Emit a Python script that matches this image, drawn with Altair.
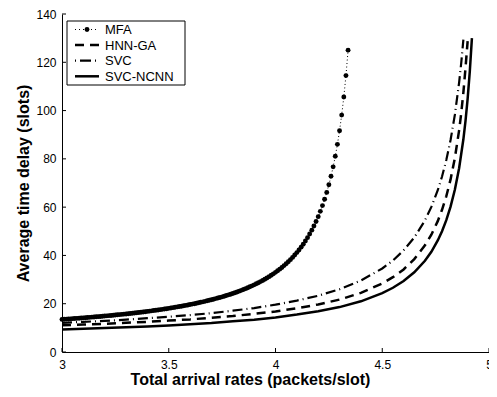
import altair as alt
import pandas as pd

FONT = "Liberation Sans"

SERIES = ["MFA", "HNN-GA", "SVC", "SVC-NCNN"]
X_TICKS = [3, 3.5, 4, 4.5, 5]
Y_TICKS = [0, 20, 40, 60, 80, 100, 120, 140]

MFA_X = [3.00, 3.01, 3.02, 3.03, 3.04, 3.05, 3.06, 3.07, 3.08, 3.09,
         3.10, 3.11, 3.12, 3.13, 3.14, 3.15, 3.16, 3.17, 3.18, 3.19,
         3.20, 3.21, 3.22, 3.23, 3.24, 3.25, 3.26, 3.27, 3.28, 3.29,
         3.30, 3.31, 3.32, 3.33, 3.34, 3.35, 3.36, 3.37, 3.38, 3.39,
         3.40, 3.41, 3.42, 3.43, 3.44, 3.45, 3.46, 3.47, 3.48, 3.49,
         3.50, 3.51, 3.52, 3.53, 3.54, 3.55, 3.56, 3.57, 3.58, 3.59,
         3.60, 3.61, 3.62, 3.63, 3.64, 3.65, 3.66, 3.67, 3.68, 3.69,
         3.70, 3.71, 3.72, 3.73, 3.74, 3.75, 3.76, 3.77, 3.78, 3.79,
         3.80, 3.81, 3.82, 3.83, 3.84, 3.85, 3.86, 3.87, 3.88, 3.89,
         3.90, 3.91, 3.92, 3.93, 3.94, 3.95, 3.96, 3.97, 3.98, 3.99,
         4.00, 4.01, 4.02, 4.03, 4.04, 4.05, 4.06, 4.07, 4.08, 4.09,
         4.10, 4.11, 4.12, 4.13, 4.14, 4.15, 4.16, 4.17, 4.18, 4.19,
         4.20, 4.21, 4.22, 4.23, 4.24, 4.25, 4.26, 4.27, 4.28, 4.29,
         4.30, 4.31, 4.32, 4.33, 4.34]
MFA_Y = [13.50, 13.56, 13.62, 13.68, 13.74, 13.81, 13.87, 13.94, 14.00, 14.07,
         14.14, 14.21, 14.28, 14.35, 14.43, 14.50, 14.58, 14.65, 14.73, 14.81,
         14.89, 14.97, 15.05, 15.14, 15.22, 15.31, 15.40, 15.49, 15.58, 15.67,
         15.77, 15.86, 15.96, 16.06, 16.16, 16.27, 16.37, 16.48, 16.59, 16.70,
         16.81, 16.93, 17.05, 17.17, 17.29, 17.42, 17.54, 17.67, 17.81, 17.94,
         18.08, 18.22, 18.37, 18.52, 18.67, 18.82, 18.98, 19.14, 19.31, 19.48,
         19.65, 19.83, 20.01, 20.20, 20.39, 20.58, 20.78, 20.99, 21.20, 21.42,
         21.64, 21.87, 22.11, 22.35, 22.60, 22.85, 23.12, 23.39, 23.67, 23.95,
         24.25, 24.56, 24.87, 25.20, 25.54, 25.88, 26.24, 26.62, 27.00, 27.40,
         27.82, 28.25, 28.70, 29.16, 29.64, 30.14, 30.67, 31.21, 31.78, 32.37,
         32.99, 33.64, 34.32, 35.03, 35.78, 36.57, 37.39, 38.26, 39.18, 40.15,
         41.18, 42.27, 43.42, 44.65, 45.96, 47.36, 48.85, 50.46, 52.19, 54.05,
         56.07, 58.26, 60.64, 63.25, 66.11, 69.27, 72.78, 76.68, 81.06, 86.01,
         91.65, 98.12, 105.65, 114.49, 125.03]

HNN_X = [3.0, 3.1, 3.2, 3.3, 3.4, 3.5, 3.6, 3.7, 3.8, 3.9, 4.0, 4.1, 4.2,
         4.3, 4.4, 4.5, 4.55, 4.6, 4.65, 4.7, 4.73, 4.76, 4.78, 4.80,
         4.82, 4.84, 4.86, 4.87, 4.88, 4.89, 4.90]
HNN_Y = [11.1, 11.4, 11.7, 12.1, 12.5, 13.0, 13.5, 14.2, 14.9, 15.8, 16.8,
         18.1, 19.7, 21.7, 24.5, 28.4, 31.0, 34.2, 38.5, 44.2, 48.6, 54.2,
         58.9, 64.5, 71.5, 80.3, 91.8, 99.0, 107.5, 117.7, 128.8]

SVC_X = [3.0, 3.1, 3.2, 3.3, 3.4, 3.5, 3.6, 3.7, 3.8, 3.9, 4.0, 4.1, 4.2,
         4.3, 4.4, 4.5, 4.55, 4.6, 4.65, 4.7, 4.73, 4.76, 4.78, 4.80,
         4.82, 4.84, 4.86, 4.87, 4.88]
SVC_Y = [12.1, 12.5, 12.9, 13.4, 14.0, 14.6, 15.3, 16.1, 17.1, 18.2, 19.6,
         21.3, 23.3, 26.0, 29.6, 34.6, 37.9, 42.1, 47.4, 54.5, 60.1, 67.0,
         72.7, 79.5, 87.8, 98.2, 111.6, 119.8, 129.4]

NCNN_X = [3.0, 3.1, 3.2, 3.3, 3.4, 3.5, 3.6, 3.7, 3.8, 3.9, 4.0, 4.1, 4.2,
          4.3, 4.4, 4.5, 4.55, 4.6, 4.65, 4.7, 4.73, 4.76, 4.78, 4.80,
          4.82, 4.84, 4.86, 4.88, 4.89, 4.90, 4.91, 4.92]
NCNN_Y = [9.3, 9.6, 9.9, 10.2, 10.6, 11.0, 11.5, 12.0, 12.7, 13.4, 14.3,
          15.5, 16.9, 18.6, 21.0, 24.4, 26.6, 29.4, 33.0, 37.8, 41.5, 46.2,
          50.0, 54.6, 60.2, 67.2, 76.1, 88.1, 95.7, 104.9, 116.1, 130.0]

W, H = 427, 338
PAD = {"left": 54, "top": 6, "right": 0, "bottom": 37}

x_enc = alt.X(
    "x:Q",
    scale=alt.Scale(domain=[3, 5], nice=False, zero=False),
    axis=alt.Axis(
        values=X_TICKS, format="~g", title="Total arrival rates (packets/slot)",
        ticks=False, tickSize=0, grid=False, labelPadding=7,
        labelFont=FONT, labelFontSize=12, labelColor="black",
        titleFont=FONT, titleFontSize=16, titleFontWeight="bold",
        titleColor="black", titlePadding=1, titleX=188,
        domainColor="black", domainWidth=1, labelFlush=False,
    ),
)
y_enc = alt.Y(
    "y:Q",
    scale=alt.Scale(domain=[0, 140], nice=False, zero=True),
    axis=alt.Axis(
        values=Y_TICKS, format="d", title="Average time delay (slots)",
        ticks=False, tickSize=0, grid=False, labelPadding=6,
        labelFont=FONT, labelFontSize=12, labelColor="black",
        titleFont=FONT, titleFontSize=16, titleFontWeight="bold",
        titleColor="black", titlePadding=4,
        domainColor="black", domainWidth=1, labelFlush=False,
    ),
)


def df(xs, ys):
    return pd.DataFrame({"x": xs, "y": ys})


mfa_line = alt.Chart(df(MFA_X, MFA_Y)).mark_line(
    color="black", strokeWidth=1, strokeDash=[1, 2.5]
).encode(x=x_enc, y=y_enc)
mfa_pts = alt.Chart(df(MFA_X, MFA_Y)).mark_point(
    filled=True, color="black", size=24, opacity=1, shape="circle"
).encode(x=x_enc, y=y_enc)
hnn_line = alt.Chart(df(HNN_X, HNN_Y)).mark_line(
    color="black", strokeWidth=2.5, strokeDash=[9, 6]
).encode(x=x_enc, y=y_enc)
svc_line = alt.Chart(df(SVC_X, SVC_Y)).mark_line(
    color="black", strokeWidth=2.2, strokeDash=[10, 4, 1, 4]
).encode(x=x_enc, y=y_enc)
ncnn_line = alt.Chart(df(NCNN_X, NCNN_Y)).mark_line(
    color="black", strokeWidth=2.5
).encode(x=x_enc, y=y_enc)

# inward ticks
xticks = alt.Chart(pd.DataFrame({"x": X_TICKS})).mark_rule(
    color="black", strokeWidth=1
).encode(x=x_enc, y=alt.value(H), y2=alt.value(H - 4))
yticks = alt.Chart(pd.DataFrame({"y": Y_TICKS})).mark_rule(
    color="black", strokeWidth=1
).encode(y=y_enc, x=alt.value(0), x2=alt.value(4))

# legend
legend_df = pd.DataFrame({"series": SERIES})
LX, LY = 5, 7
box = alt.Chart(alt.Data(values=[{"k": 1}])).mark_rect(
    fill="white", stroke="black", strokeWidth=1
).encode(x=alt.value(LX), x2=alt.value(LX + 118),
         y=alt.value(LY), y2=alt.value(LY + 64))

LEG_STYLE = {
    "MFA": dict(strokeWidth=1, strokeDash=[1, 3]),
    "HNN-GA": dict(strokeWidth=2.5, strokeDash=[9, 6]),
    "SVC": dict(strokeWidth=2.2, strokeDash=[1, 4, 11, 4, 1, 10]),
    "SVC-NCNN": dict(strokeWidth=2.5),
}
legend_layers = [box]
for i, name in enumerate(SERIES):
    yy = LY + 8.5 + 15.6 * i
    sub = alt.Chart(legend_df).transform_filter(alt.datum.series == name)
    legend_layers.append(
        sub.mark_rule(color="black", **LEG_STYLE[name]).encode(
            x=alt.value(LX + 8), x2=alt.value(LX + 32), y=alt.value(yy)
        )
    )
    if name == "MFA":
        legend_layers.append(
            sub.mark_point(filled=True, color="black", size=24, opacity=1,
                           shape="circle").encode(
                x=alt.value(LX + 20), y=alt.value(yy)
            )
        )
    legend_layers.append(
        sub.mark_text(align="left", baseline="middle", font=FONT,
                      fontSize=13, color="black").encode(
            x=alt.value(LX + 38), y=alt.value(yy + 0.5), text="series:N"
        )
    )

chart = alt.layer(
    mfa_line, mfa_pts, hnn_line, svc_line, ncnn_line, xticks, yticks,
    *legend_layers
).properties(
    width=W, height=H,
    padding=PAD,
    autosize=alt.AutoSizeParams(type="none"),
    background="white",
).configure_view(stroke=None)

chart.save("out.html", embed_options={"renderer": "svg", "actions": False})
